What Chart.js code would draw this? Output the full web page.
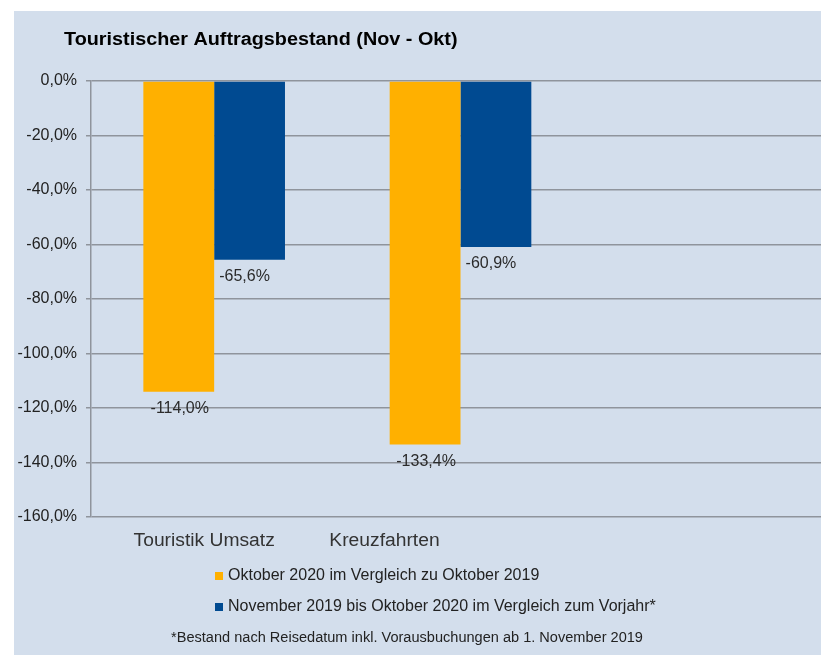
<!DOCTYPE html>
<html>
<head>
<meta charset="utf-8">
<script src="https://cdn.jsdelivr.net/npm/chart.js@4/dist/chart.umd.min.js"></script>
<style>
  html, body { margin: 0; padding: 0; background: #fff; overflow: hidden; }
  #panel { position: absolute; left: 14px; top: 11px; width: 830px; height: 644px; background: #d3deec; overflow: hidden; }
  #chart { display: block; }
</style>
</head>
<body>
<div id="panel"><canvas id="chart" width="830" height="644"></canvas></div>
<script>
var titleText = 'Touristischer Auftragsbestand (Nov - Okt)';
var categories = ['Touristik Umsatz', 'Kreuzfahrten', ''];
var seriesNames = ['Oktober 2020 im Vergleich zu Oktober 2019', 'November 2019 bis Oktober 2020 im Vergleich zum Vorjahr*'];
var oktober = [-114.0, -133.4, null];
var jahr = [-65.6, -60.9, null];
var colors = ['#ffb000', '#004a91'];
var footnote = '*Bestand nach Reisedatum inkl. Vorausbuchungen ab 1. November 2019';

var FONT = '"Liberation Sans", Arial, sans-serif';

function pct(v) {
    return v.toFixed(1).replace('.', ',') + '%';
}

// stretched text, the original looks a bit wider than Arial
function wideText(ctx, text, x, y, sx) {
    ctx.save();
    ctx.translate(x, y);
    ctx.scale(sx, 1);
    ctx.fillText(text, 0, 0);
    ctx.restore();
}

/* title, value labels, category labels, legend and footnote */
var extras = {
    id: 'extras',
    afterDatasetsDraw: function(chart) {
        var ctx = chart.ctx;
        var shift = [1, -5];
        ctx.save();
        ctx.fillStyle = '#2b2b2b';
        ctx.font = '16px ' + FONT;
        ctx.textAlign = 'center';
        ctx.textBaseline = 'middle';
        chart.data.datasets.forEach(function(ds, i) {
            chart.getDatasetMeta(i).data.forEach(function(bar, j) {
                if (ds.data[j] == null) return;
                ctx.fillText(pct(ds.data[j]), bar.x + shift[i], bar.y + 17);
            });
        });
        ctx.restore();
    },
    afterDraw: function(chart) {
        var ctx = chart.ctx;
        var xs = chart.scales.x;
        var catShift = [-10, -76, 0];
        ctx.save();
        ctx.fillStyle = '#000';
        ctx.font = 'bold 18px ' + FONT;
        ctx.textAlign = 'left';
        ctx.textBaseline = 'middle';
        wideText(ctx, titleText, 50, 29, 1.1);

        ctx.fillStyle = '#333';
        ctx.font = '18px ' + FONT;
        ctx.textAlign = 'center';
        chart.data.labels.forEach(function(lab, i) {
            wideText(ctx, lab, xs.getPixelForValue(i) + catShift[i], 530, 1.07);
        });

        ctx.textAlign = 'left';
        ctx.font = '16px ' + FONT;
        chart.data.datasets.forEach(function(ds, i) {
            var y = 565 + i * 31;
            ctx.fillStyle = ds.backgroundColor;
            ctx.fillRect(201, y - 4, 8, 8);
            ctx.fillStyle = '#222';
            ctx.fillText(ds.label, 214, y);
        });
        ctx.font = '14px ' + FONT;
        ctx.textAlign = 'center';
        wideText(ctx, footnote, 393, 627, 1.04);
        ctx.restore();
    }
};

new Chart(document.getElementById('chart'), {
    type: 'bar',
    data: {
        labels: categories,
        datasets: [
            { label: seriesNames[0], data: oktober, backgroundColor: colors[0], barPercentage: 1, categoryPercentage: 0.575 },
            { label: seriesNames[1], data: jahr, backgroundColor: colors[1], barPercentage: 1, categoryPercentage: 0.575 }
        ]
    },
    options: {
        responsive: false,
        animation: false,
        layout: { padding: { top: 70, left: 0, right: 14, bottom: 98 } },
        plugins: { legend: { display: false }, tooltip: { enabled: false } },
        scales: {
            x: {
                grid: { display: false },
                border: { display: false },
                ticks: { display: false },
                afterFit: function(s) { s.height = 40; }
            },
            y: {
                min: -160,
                max: 0,
                ticks: {
                    stepSize: 20,
                    padding: 9,
                    color: '#222',
                    font: { family: FONT, size: 16 },
                    callback: function(v) { return pct(v); }
                },
                grid: { color: '#8f949c', lineWidth: 1.5, tickLength: 5 },
                border: { color: '#8f949c', width: 1.5 },
                afterFit: function(s) { s.width = 77; }
            }
        }
    },
    plugins: [extras]
});
</script>
</body>
</html>
